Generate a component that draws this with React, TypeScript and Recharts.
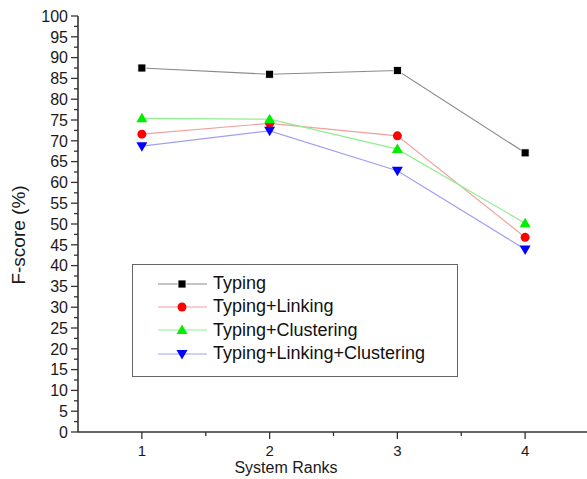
import { CartesianGrid, Legend, Line, LineChart, XAxis, YAxis } from "recharts";

const ranks = [1, 2, 3, 4];
const typing = [87.5, 86.0, 86.9, 67.1];
const typingLinking = [71.6, 74.2, 71.2, 46.8];
const typingClustering = [75.4, 75.2, 68.0, 50.2];
const typingLinkingClustering = [68.7, 72.4, 62.8, 43.9];

const yTicks = [0, 5, 10, 15, 20, 25, 30, 35, 40, 45, 50, 55, 60, 65, 70, 75, 80, 85, 90, 95, 100];
const xTicks = [1, 2, 3, 4];

const data = ranks.map((rank, i) => ({
  rank,
  typing: typing[i],
  linking: typingLinking[i],
  clustering: typingClustering[i],
  both: typingLinkingClustering[i],
}));

const series = [
  { key: "typing", name: "Typing", line: "#8a8a8a", fill: "#000000", shape: "square" },
  { key: "linking", name: "Typing+Linking", line: "#f0a0a0", fill: "#ff0000", shape: "circle" },
  { key: "clustering", name: "Typing+Clustering", line: "#90ee90", fill: "#00ee00", shape: "up" },
  { key: "both", name: "Typing+Linking+Clustering", line: "#a0a0f0", fill: "#0000ff", shape: "down" },
];

const FONT = "'Liberation Sans', Arial, sans-serif";

function Marker({ cx, cy, shape, fill }: { cx: number; cy: number; shape: string; fill: string }) {
  if (cx == null || cy == null) return null;
  if (shape === "square") {
    return <rect x={cx - 4} y={cy - 4} width={8} height={8} fill={fill} stroke="#fff" strokeWidth={0.8} />;
  }
  if (shape === "circle") {
    return <circle cx={cx} cy={cy} r={4.5} fill={fill} />;
  }
  if (shape === "up") {
    return <polygon points={`${cx - 5.5},${cy + 4} ${cx + 5.5},${cy + 4} ${cx},${cy - 5.5}`} fill={fill} />;
  }
  return <polygon points={`${cx - 5.5},${cy - 4} ${cx + 5.5},${cy - 4} ${cx},${cy + 5.5}`} fill={fill} />;
}

function YTick({ x, y, payload }: any) {
  const v = payload.value as number;
  const major = v % 5 === 0;
  return (
    <g>
      <line x1={x - (major ? 7 : 4)} x2={x} y1={y} y2={y} stroke="#333" strokeWidth={1.3} />
      {major && (
        <text x={x - 10} y={y} dy="0.36em" textAnchor="end" fontSize={16} fontFamily={FONT} fill="#1a1a1a">
          {v}
        </text>
      )}
    </g>
  );
}

function XTick({ x, y, payload }: any) {
  const v = payload.value as number;
  const major = Number.isInteger(v);
  return (
    <g>
      <line x1={x} x2={x} y1={y} y2={y + (major ? 7 : 4)} stroke="#333" strokeWidth={1.3} />
      {major && (
        <text x={x} y={y + 24} textAnchor="middle" fontSize={15} fontFamily={FONT} fill="#1a1a1a">
          {v}
        </text>
      )}
    </g>
  );
}

function LegendBox() {
  return (
    <div
      style={{
        width: 324,
        height: 104,
        border: "1.5px solid #666",
        background: "#fff",
        boxSizing: "content-box",
        paddingTop: 7,
        fontFamily: FONT,
        fontSize: 18,
        color: "#111",
      }}
    >
      {series.map((s) => (
        <div key={s.key} style={{ display: "flex", alignItems: "center", height: 23.3 }}>
          <svg width={80} height={20} style={{ display: "block" }}>
            <line x1={25} x2={74} y1={10} y2={10} stroke={s.line} strokeWidth={1.2} />
            <Marker cx={49} cy={10} shape={s.shape} fill={s.fill} />
          </svg>
          <span style={{ whiteSpace: "nowrap" }}>{s.name}</span>
        </div>
      ))}
    </div>
  );
}

export default function App() {
  const minorY = yTicks.slice(0, -1).map((t) => t + 2.5);
  const allY = [...yTicks, ...minorY].sort((a, b) => a - b);
  const allX = [...xTicks, 1.5, 2.5, 3.5].sort((a, b) => a - b);
  return (
    <div style={{ position: "absolute", left: 0, top: 0, width: 587, height: 479, background: "#fff" }}>
      <LineChart width={587} height={479} data={data} margin={{ top: 16, right: -2, left: 0, bottom: 0 }}>
        <CartesianGrid stroke="none" />
        <XAxis
          dataKey="rank"
          type="number"
          domain={[0.5, 4.5]}
          ticks={allX}
          interval={0}
          height={47}
          tickSize={0}
          tickMargin={0}
          tickLine={false}
          tick={<XTick />}
          axisLine={{ stroke: "#333", strokeWidth: 1.6 }}
          allowDataOverflow
          label={({ viewBox }: any) => (
            <text
              x={viewBox.x + 208}
              y={viewBox.y + 41}
              textAnchor="middle"
              fontSize={16}
              fontFamily={FONT}
              fill="#1a1a1a"
            >
              System Ranks
            </text>
          )}
        />
        <YAxis
          type="number"
          domain={[0, 100]}
          ticks={allY}
          interval={0}
          width={78}
          tickSize={0}
          tickMargin={0}
          tickLine={false}
          tick={<YTick />}
          axisLine={{ stroke: "#333", strokeWidth: 1.6 }}
          label={({ viewBox }: any) => (
            <text
              x={20}
              y={viewBox.y + viewBox.height / 2 + 11}
              transform={`rotate(-90, 20, ${viewBox.y + viewBox.height / 2 + 11})`}
              textAnchor="middle"
              dominantBaseline="middle"
              fontSize={19}
              fontFamily={FONT}
              fill="#1a1a1a"
            >
              F-score (%)
            </text>
          )}
        />
        <Legend
          layout="vertical"
          align="center"
          verticalAlign="middle"
          content={() => <LegendBox />}
          wrapperStyle={{ left: 132, top: 264, width: 330 }}
        />
        {series.map((s) => (
          <Line
            key={s.key}
            type="linear"
            dataKey={s.key}
            name={s.name}
            stroke={s.line}
            strokeWidth={1.2}
            isAnimationActive={false}
            dot={(p: any) => <Marker key={`${s.key}-${p.index}`} cx={p.cx} cy={p.cy} shape={s.shape} fill={s.fill} />}
            activeDot={false}
          />
        ))}
      </LineChart>
    </div>
  );
}
